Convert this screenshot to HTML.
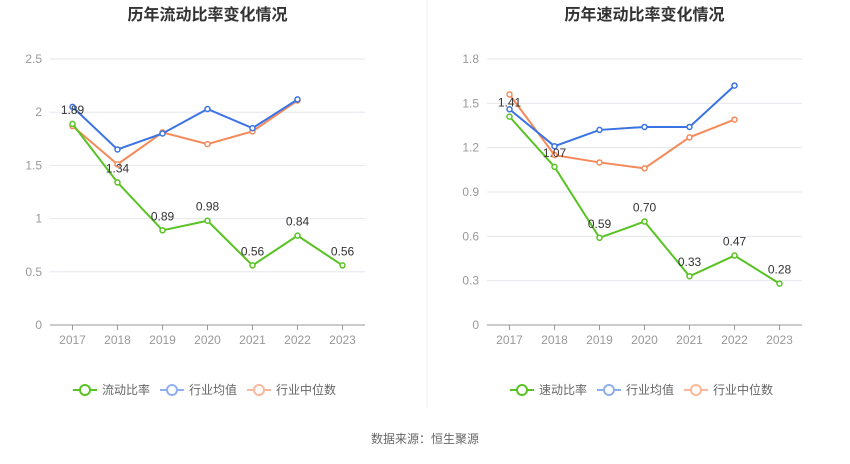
<!DOCTYPE html>
<html><head><meta charset="utf-8">
<style>
body{margin:0;background:#fff;font-family:"Liberation Sans","Noto Sans CJK SC",sans-serif;}
svg text{font-family:"Liberation Sans","Noto Sans CJK SC",sans-serif;}
</style></head>
<body>
<svg id="c" width="850" height="459"></svg>
<script>
const years=["2017","2018","2019","2020","2021","2022","2023"];
const currentRatio=[1.89,1.34,0.89,0.98,0.56,0.84,0.56];
const currentAvg=[2.05,1.65,1.80,2.03,1.85,2.12,null];
const currentMed=[1.87,1.51,1.81,1.70,1.82,2.11,null];
const currentTicks=[0,0.5,1,1.5,2,2.5];
const currentTickLabels=["0","0.5","1","1.5","2","2.5"];
const quickRatio=[1.41,1.07,0.59,0.70,0.33,0.47,0.28];
const quickAvg=[1.46,1.21,1.32,1.34,1.34,1.62,null];
const quickMed=[1.56,1.15,1.10,1.06,1.27,1.39,null];
const quickTicks=[0,0.3,0.6,0.9,1.2,1.5,1.8];
const quickTickLabels=["0","0.3","0.6","0.9","1.2","1.5","1.8"];

const NS="http://www.w3.org/2000/svg";
const svg=document.getElementById('c');
function mk(tag,attrs,parent){const e=document.createElementNS(NS,tag);for(const k in attrs)e.setAttribute(k,attrs[k]);(parent||svg).appendChild(e);return e;}

function chart(o){
  const g=mk('g',{});
  
  
  const x0=o.x0,x1=o.x1,yb=325,yt=59;
  const xs=i=>x0+(x1-x0)/years.length*(i+0.5);
  const ys=v=>yb-(v/o.max)*(yb-yt);
  const t=mk('text',{x:(x0+x1)/2,y:20,'text-anchor':'middle','font-size':'16','font-weight':'bold',fill:'#333'},g);
  t.textContent=o.title;
  
  
  o.ticks.forEach((v,i)=>{
    if(i>0){const l=mk('line',{x1:x0,x2:x1,y1:ys(v),y2:ys(v),stroke:'#e6e6ee','stroke-width':1},g);
      
      }
    const tl=mk('text',{x:x0-8,y:ys(v)+4,'text-anchor':'end','font-size':'12',fill:'#999'},g);
    tl.textContent=o.tickLabels[i];
    
    
  });
  const ax=mk('line',{x1:x0,x2:x1,y1:yb,y2:yb,stroke:'#999','stroke-width':1},g);
  
  
  years.forEach((y,i)=>{
    const tk=mk('line',{x1:xs(i),x2:xs(i),y1:yb,y2:yb+5,stroke:'#999'},g);
    
    
    const tl=mk('text',{x:xs(i),y:yb+19,'text-anchor':'middle','font-size':'12',fill:'#999'},g);
    tl.textContent=y;
    
    
  });
  const series=[[o.med,'#f5895a','industry-median-line'],[o.avg,'#3b73e4','industry-average-line'],[o.main,'#58c322','main-ratio-line']];
  series.forEach(([d,c,n])=>{
    let p='';d.forEach((v,i)=>{if(v!=null)p+=(p?'L':'M')+xs(i)+' '+ys(v);});
    const pl=mk('path',{d:p,fill:'none',stroke:c,'stroke-width':2},g);
    
    
    d.forEach((v,i)=>{if(v==null)return;
      const ci=mk('circle',{cx:xs(i),cy:ys(v),r:2.5,fill:'#fff',stroke:c,'stroke-width':1.5},g);
      
      });
  });
  o.main.forEach((v,i)=>{
    const tl=mk('text',{x:xs(i),y:ys(v)-10,'text-anchor':'middle','font-size':'12',fill:'#333'},g);
    tl.textContent=v.toFixed(2);
    
    
  });
  const lg=[[o.mainName,'#58c322'],['行业均值','#8fb0ef'],['行业中位数','#f8b89b']];
  let lx=o.legendX;
  lg.forEach(([n,c])=>{
    const e=mk('g',{},g);
    
    
    mk('line',{x1:lx,x2:lx+24,y1:390,y2:390,stroke:c,'stroke-width':2},e);
    mk('circle',{cx:lx+12,cy:390,r:5,fill:'#fff',stroke:c,'stroke-width':2},e);
    const tt=mk('text',{x:lx+29,y:394,'font-size':'12',fill:'#666'},e);
    tt.textContent=n;
    lx+=29+n.length*12+10;
  });
}
chart({name:'current-ratio-chart',title:'历年流动比率变化情况',x0:50,x1:365,max:2.5,ticks:currentTicks,tickLabels:currentTickLabels,main:currentRatio,avg:currentAvg,med:currentMed,mainName:'流动比率',legendX:73});
chart({name:'quick-ratio-chart',title:'历年速动比率变化情况',x0:487,x1:802,max:1.8,ticks:quickTicks,tickLabels:quickTickLabels,main:quickRatio,avg:quickAvg,med:quickMed,mainName:'速动比率',legendX:510});
const dv=mk('line',{x1:427,x2:427,y1:0,y2:408,stroke:'#eee'});


const src=mk('text',{x:425,y:443,'text-anchor':'middle','font-size':'12',fill:'#666'});
src.textContent='数据来源：恒生聚源';


</script>
</body></html>
